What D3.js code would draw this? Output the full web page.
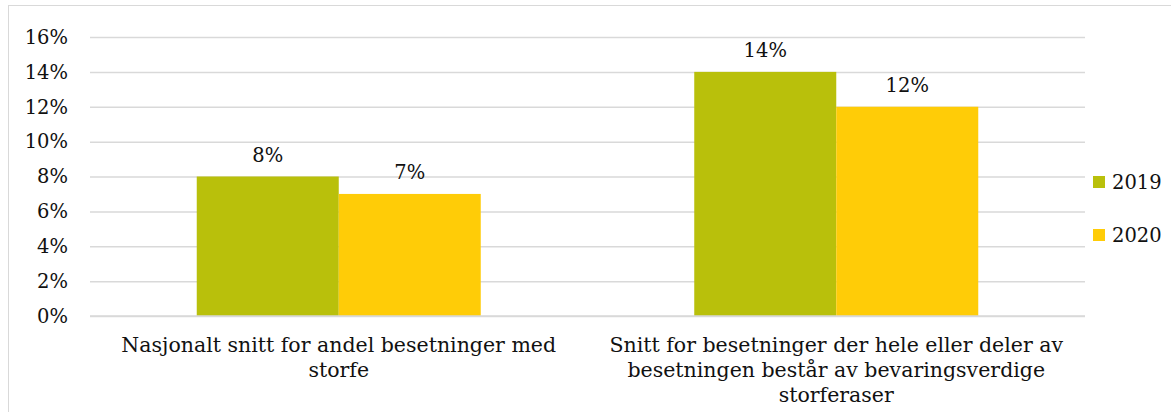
<!DOCTYPE html>
<html>
<head>
<meta charset="utf-8">
<script src="https://cdn.jsdelivr.net/npm/d3@7"></script>
<style>
  html, body { margin: 0; padding: 0; background: #fff; }
  svg text { font-family: 'DejaVu Serif', Georgia, serif; fill: #111; }
</style>
</head>
<body>
<div id="chart"></div>
<script>
// Data
const categories = [
  'Nasjonalt snitt for andel besetninger med storfe',
  'Snitt for besetninger der hele eller deler av besetningen består av bevaringsverdige storferaser'
];
const categoryLines = [
  ['Nasjonalt snitt for andel besetninger med', 'storfe'],
  ['Snitt for besetninger der hele eller deler av', 'besetningen består av bevaringsverdige', 'storferaser']
];
const seriesNames = ['2019', '2020'];
const values2019 = [0.08, 0.14];
const values2020 = [0.07, 0.12];
const yTicks = [0, 0.02, 0.04, 0.06, 0.08, 0.10, 0.12, 0.14, 0.16];

const COLORS = { '2019': '#b9c00b', '2020': '#ffcc07' };

const W = 1171, H = 412;
const m = { left: 90, right: 86, top: 37, bottom: 96 };
const innerW = W - m.left - m.right, innerH = H - m.top - m.bottom;

const svg = d3.select('#chart').append('svg').attr('width', W).attr('height', H);

// outer frame
svg.append('rect').attr('x', 8.5).attr('y', 5.5).attr('width', W + 10).attr('height', H + 10)
  .attr('fill', 'none').attr('stroke', '#d9d9d9').attr('stroke-width', 1);

const g = svg.append('g').attr('transform', `translate(${m.left},${m.top})`);

const x0 = d3.scaleBand().domain(categories).range([0, innerW]);
const x1 = d3.scaleBand().domain(seriesNames).range([0, 284]);
const y = d3.scaleLinear().domain([0, 0.16]).range([innerH, 0]);

// gridlines
g.append('g')
  .call(d3.axisLeft(y).tickValues(yTicks).tickSize(-innerW).tickFormat(''))
  .call(a => a.select('.domain').remove())
  .selectAll('line').attr('stroke', '#d9d9d9').attr('stroke-width', 1.5);

// y labels
g.append('g')
  .call(d3.axisLeft(y).tickValues(yTicks).tickSize(0).tickPadding(22).tickFormat(d3.format('.0%')))
  .call(a => a.select('.domain').remove())
  .selectAll('text').attr('font-size', 19.5).attr('fill', '#111')
  .style('font-family', "'DejaVu Serif', Georgia, serif");

const rows = categories.map((c, i) => ({
  cat: c,
  vals: [{ s: '2019', v: values2019[i] }, { s: '2020', v: values2020[i] }]
}));

const grp = g.selectAll('.grp').data(rows).join('g')
  .attr('class', 'grp')
  .attr('transform', d => `translate(${x0(d.cat) + x0.bandwidth() / 2 - 142},0)`);

grp.selectAll('rect').data(d => d.vals).join('rect')
  .attr('x', d => x1(d.s))
  .attr('y', d => y(d.v))
  .attr('width', x1.bandwidth())
  .attr('height', d => innerH - y(d.v))
  .attr('fill', d => COLORS[d.s]);

grp.selectAll('.lbl').data(d => d.vals).join('text')
  .attr('class', 'lbl')
  .attr('x', d => x1(d.s) + x1.bandwidth() / 2)
  .attr('y', d => y(d.v) - 15)
  .attr('text-anchor', 'middle')
  .attr('font-size', 19.5)
  .text(d => d3.format('.0%')(d.v));

// baseline
g.append('line').attr('x1', 0).attr('x2', innerW).attr('y1', innerH).attr('y2', innerH)
  .attr('stroke', '#d9d9d9').attr('stroke-width', 1.5);

// category labels
categories.forEach((c, i) => {
  const t = g.append('text')
    .attr('x', x0(c) + x0.bandwidth() / 2)
    .attr('y', innerH + 36)
    .attr('text-anchor', 'middle')
    .attr('font-size', 20.5);
  categoryLines[i].forEach((ln, j) => {
    t.append('tspan').attr('x', x0(c) + x0.bandwidth() / 2).attr('dy', j ? 25 : 0).text(ln);
  });
});

// legend
const leg = svg.append('g').attr('transform', 'translate(1093,176)');
seriesNames.forEach((s, i) => {
  const r = leg.append('g').attr('transform', `translate(0,${i * 53})`);
  r.append('rect').attr('width', 12).attr('height', 12).attr('fill', COLORS[s]);
  r.append('text').attr('x', 19).attr('y', 13).attr('font-size', 19.5).text(s);
});
</script>
</body>
</html>
